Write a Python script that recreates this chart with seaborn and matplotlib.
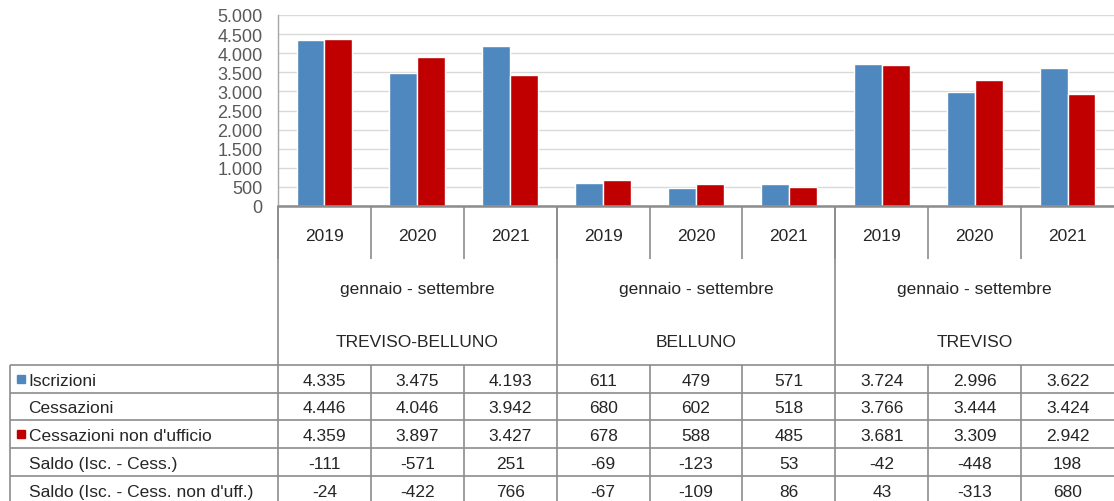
import numpy as np
import pandas as pd
import seaborn as sns
import matplotlib.pyplot as plt

# Data
regioni = ["TREVISO-BELLUNO", "BELLUNO", "TREVISO"]
anni = ["2019", "2020", "2021"]
periodo = "gennaio - settembre"
iscrizioni = [4335, 3475, 4193, 611, 479, 571, 3724, 2996, 3622]
cessazioni = [4446, 4046, 3942, 680, 602, 518, 3766, 3444, 3424]
cess_non_uff = [4359, 3897, 3427, 678, 588, 485, 3681, 3309, 2942]
saldo = [-111, -571, 251, -69, -123, 53, -42, -448, 198]
saldo_non_uff = [-24, -422, 766, -67, -109, 86, 43, -313, 680]

righe = ["Iscrizioni", "Cessazioni", "Cessazioni non d'ufficio",
         "Saldo (Isc. - Cess.)", "Saldo (Isc. - Cess. non d'uff.)"]
valori = [iscrizioni, cessazioni, cess_non_uff, saldo, saldo_non_uff]
colori = {"Iscrizioni": "#4F88BE", "Cessazioni non d'ufficio": "#C00000"}

sns.set_theme(style="white")
plt.rcParams['font.family'] = ['Liberation Sans', 'DejaVu Sans']

cols = [f"{r} {a}" for r in regioni for a in anni]
df = pd.DataFrame({
    "col": cols * 2,
    "serie": ["Iscrizioni"] * 9 + ["Cessazioni non d'ufficio"] * 9,
    "valore": iscrizioni + cess_non_uff,
})

W, H = 1114, 502
fig = plt.figure(figsize=(W / 100, H / 100), dpi=100)
ax = fig.add_axes([278 / W, (H - 207) / H, 836 / W, 191 / H])

sns.barplot(data=df, x="col", y="valore", hue="serie", palette=colori,
            width=0.6, edgecolor="white", linewidth=1, saturation=1,
            legend=False, ax=ax)
ax.set_xlim(-0.5, 8.5)
ax.set_ylim(0, 5000)
ax.set_yticks(np.arange(0, 5001, 500))
ax.set_yticklabels([f"{v:,}".replace(",", ".") for v in range(0, 5001, 500)])
ax.set_xticks([])
ax.set_xlabel("")
ax.set_ylabel("")
ax.grid(axis="y", color="#d9d9d9", lw=1)
ax.set_axisbelow(True)
for s in ["top", "right"]:
    ax.spines[s].set_visible(False)
ax.spines["left"].set_color("#a6a6a6")
ax.spines["left"].set_linewidth(1)
ax.spines["bottom"].set_color("#8c8c8c")
ax.spines["bottom"].set_linewidth(1.8)
ax.tick_params(axis="y", length=0, pad=11, labelsize=13, labelcolor="#595959")

# Table below the chart
lab_w = 268 / 92.9
h_head = 1.9
n_head = 3
top_dati = n_head * h_head
tot = top_dati + len(righe)
tx = fig.add_axes([10 / W, -3 / H, 1104 / W, 298 / H])
tx.set_xlim(-0.5 - lab_w, 8.5)
tx.set_ylim(tot, 0)
tx.axis("off")
lc = "#8c8c8c"
lw = 1.2
bordi = np.arange(-0.5, 8.0, 1.0)
gruppi = np.arange(-0.5, 8.0, 3.0)
fs = 12.5

# header rows
tx.vlines(bordi, 0, h_head, color=lc, lw=lw, clip_on=False)
tx.vlines(gruppi, 0, top_dati, color=lc, lw=lw, clip_on=False)
for i, c in enumerate(cols):
    tx.text(i, h_head / 2 + 0.12, anni[i % 3], ha="center", va="center", fontsize=fs)
for g, r in enumerate(regioni):
    tx.text(g * 3 + 1, h_head * 1.5 + 0.12, periodo, ha="center", va="center", fontsize=fs)
    tx.text(g * 3 + 1, h_head * 2.5 + 0.1, r, ha="center", va="center", fontsize=fs)

# data rows
x0 = -0.5 - lab_w
tx.hlines(top_dati + np.arange(len(righe) + 1), x0, 8.5, color=lc, lw=lw, clip_on=False)
tx.vlines(np.append(bordi, x0), top_dati, tot, color=lc, lw=lw, clip_on=False)
for j, (nome, vals) in enumerate(zip(righe, valori)):
    y = top_dati + j + 0.55
    if nome in colori:
        tx.plot(x0 + 0.12, y - 0.05, marker="s", ms=6, color=colori[nome], clip_on=False)
    tx.text(x0 + 0.2, y, nome, ha="left", va="center", fontsize=fs)
    for i, v in enumerate(vals):
        tx.text(i, y, f"{v:,}".replace(",", "."), ha="center", va="center", fontsize=fs)

fig.savefig("out.png", dpi=100)
